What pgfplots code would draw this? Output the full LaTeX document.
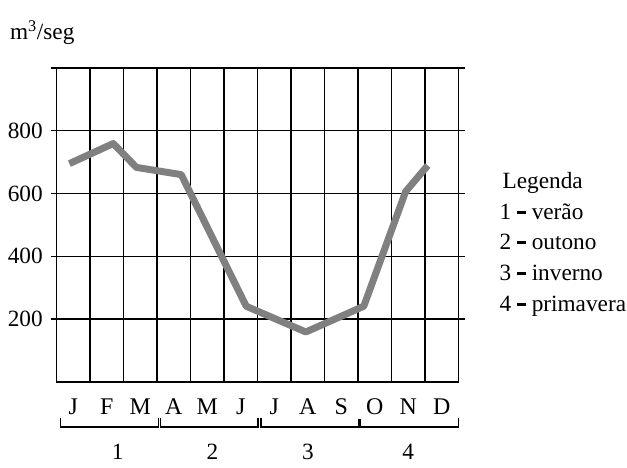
\documentclass[border=0pt]{standalone}
\usepackage{fontspec}
\setmainfont{Liberation Serif}
\usepackage{pgfplots}
\pgfplotsset{compat=1.18}
\definecolor{curve}{RGB}{128,128,128}
\begin{document}
\fontsize{17.5}{21}\selectfont
\begin{tikzpicture}
\begin{axis}[
  scale only axis, width=302.25pt, height=236.25pt,
  xmin=0, xmax=12, ymin=0, ymax=1000,
  clip=false,
  axis line style={line width=1.1pt, black},
  xtick={0.5,1.5,2.5,3.5,4.5,5.5,6.5,7.5,8.5,9.5,10.5,11.5},
  xticklabels={J,F,M,A,M,J,J,A,S,O,N,D},
  minor xtick={1,2,3,4,5,6,7,8,9,10,11},
  xminorgrids,
  xtick style={draw=none},
  minor tick length=0pt,
  ytick={200,400,600,800,1000},
  yticklabels={200,400,600,800,},
  ymajorgrids,
  grid style={black, line width=1.1pt},
  minor grid style={black, line width=1.1pt},
  tick align=outside,
  ytick style={black, line width=1.1pt},
  major tick length=4.5pt,
  tick label style={font=\fontsize{17.5}{21}\selectfont},
  xticklabel style={anchor=base, yshift=-20pt, font=\fontsize{18}{21}\selectfont},
  /pgf/number format/assume math mode=true,
]
\addplot[color=curve, line width=5.25pt, line join=round] coordinates {
  (0.38,695) (1.69,759) (2.38,683) (3.72,660) (5.66,241)
  (7.44,159) (9.17,241) (10.42,606) (11.08,689)
};
% season brackets
\draw[line width=1.2pt] (axis cs:0.12,-115) -- (axis cs:0.12,-143) -- (axis cs:3.04,-143) -- (axis cs:3.04,-115);
\draw[line width=1.2pt] (axis cs:3.10,-115) -- (axis cs:3.10,-143) -- (axis cs:6.02,-143) -- (axis cs:6.02,-115);
\draw[line width=1.2pt] (axis cs:6.10,-115) -- (axis cs:6.10,-143) -- (axis cs:12,-143) -- (axis cs:12,-115);
\draw[line width=2.2pt] (axis cs:9.05,-143) -- (axis cs:9.05,-117);
\node[anchor=base] at (axis cs:1.82,-247) {1};
\node[anchor=base] at (axis cs:4.65,-247) {2};
\node[anchor=base] at (axis cs:7.50,-247) {3};
\node[anchor=base] at (axis cs:10.50,-247) {4};
% y unit label
\node[anchor=west, inner sep=0pt] at (axis cs:-1.40,1111) {m\textsuperscript{3}/seg};
% legend text
\node[anchor=base west, inner sep=0pt] at (axis cs:13.31,616) {Legenda};
\node[anchor=base west, inner sep=0pt] at (axis cs:13.22,517) {1 \rule[0.22em]{0.38em}{0.13em} verão};
\node[anchor=base west, inner sep=0pt] at (axis cs:13.22,422) {2 \rule[0.22em]{0.38em}{0.13em} outono};
\node[anchor=base west, inner sep=0pt] at (axis cs:13.22,324) {3 \rule[0.22em]{0.38em}{0.13em} inverno};
\node[anchor=base west, inner sep=0pt] at (axis cs:13.22,225) {4 \rule[0.22em]{0.38em}{0.13em} primavera};
% frame of the whole picture
\path (axis cs:-1.638,-247.6) rectangle (axis cs:17.03,1215.9);
\end{axis}
\end{tikzpicture}
\end{document}
